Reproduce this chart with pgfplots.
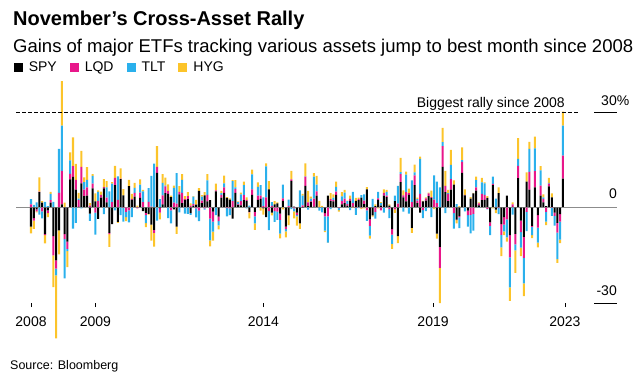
\documentclass[border=0pt]{standalone}
\usepackage{pgfplots}
\pgfplotsset{compat=1.18}
\usepackage{pgfplotstable}
\usepackage{fontspec}
\setmainfont{Liberation Sans}
\definecolor{cSPY}{HTML}{000000}
\definecolor{cLQD}{HTML}{E8178A}
\definecolor{cTLT}{HTML}{2AB0EC}
\definecolor{cHYG}{HTML}{FCC42A}
\definecolor{zline}{HTML}{8C8C8C}

\pgfplotstableread{
i spy lqd tlt hyg
0 -6.0 1.0 1.6 -2.1
1 -3.3 -0.8 0.8 -2.6
2 -0.6 -0.6 1.6 -0.3
3 4.8 0.2 -2.2 4.5
4 1.5 -1.2 -2.2 0.5
5 -8.4 -0.3 1.8 -2.6
6 -0.9 -0.9 0.4 -1.2
7 1.5 0.8 2.0 0.6
8 -9.0 -6.0 1.8 -10.0
9 -16.6 -2.6 -2.1 -19.8
10 -7.2 4.6 13.8 -7.5
11 1.0 10.5 14.2 14.0
12 -8.4 -1.5 -12.4 1.5
13 -10.7 -2.3 -0.7 -5.0
14 8.8 1.8 4.2 2.5
15 9.6 3.4 -6.6 9.0
16 5.6 3.1 -4.8 5.0
17 0.2 2.1 0.5 1.8
18 7.6 5.2 -0.3 5.0
19 3.6 2.0 2.4 1.5
20 3.7 2.6 2.4 4.0
21 -1.9 0.6 -2.3 0.8
22 6.0 1.5 2.4 0.6
23 1.9 -1.6 -6.9 2.5
24 -3.6 2.1 2.8 0.5
25 3.1 0.8 0.1 1.0
26 6.0 0.4 -2.1 2.5
27 1.6 1.5 3.2 2.0
28 -8.0 -0.4 5.1 -4.0
29 -5.2 1.7 5.8 0.5
30 7.0 2.3 -0.9 3.8
31 -4.5 2.4 7.4 -0.3
32 8.9 0.2 -2.4 3.2
33 3.8 -0.1 -4.3 2.0
34 0.0 -1.4 -1.6 -1.3
35 6.7 -0.9 -3.8 2.0
36 2.4 0.3 -3.0 1.6
37 3.4 1.2 1.6 1.5
38 0.0 -0.3 0.1 0.5
39 3.0 1.7 2.5 1.6
40 -1.1 1.7 3.4 0.4
41 -1.7 -0.7 -2.5 -1.3
42 -2.0 1.8 4.3 -0.2
43 -5.4 0.3 9.6 -5.0
44 -7.0 -1.0 13.8 -4.3
45 10.9 1.9 -4.1 6.5
46 -0.2 -1.4 2.6 -2.1
47 1.0 2.8 3.9 2.8
48 4.5 2.1 0.3 2.5
49 4.3 0.9 -3.3 2.1
50 3.3 -0.9 -4.1 0.4
51 -0.6 1.5 4.7 0.7
52 -6.0 1.2 9.6 -2.3
53 4.1 0.8 -1.5 1.8
54 1.4 3.2 4.1 1.8
55 2.3 0.3 -1.9 1.0
56 2.6 1.0 -2.0 1.2
57 -1.8 0.6 -0.5 0.7
58 0.6 0.5 2.3 0.2
59 0.9 -0.3 -2.8 1.5
60 5.2 -1.0 -3.3 0.9
61 1.4 0.8 1.2 0.5
62 3.8 -0.3 -0.4 1.0
63 1.9 2.1 4.5 2.0
64 2.3 -3.5 -6.8 -1.9
65 -1.3 -3.1 -3.2 -2.8
66 5.1 0.3 -2.4 2.1
67 -2.9 -1.4 -1.3 -1.3
68 3.1 0.9 0.5 0.7
69 4.6 1.7 1.3 2.4
70 3.0 -0.2 -2.6 0.3
71 2.5 -0.3 -2.1 0.4
72 -3.5 2.0 6.3 0.3
73 4.6 1.2 0.5 2.3
74 0.8 0.2 0.7 0.2
75 0.7 1.3 2.1 0.6
76 2.3 1.6 3.1 1.1
77 2.1 0.3 -0.3 0.8
78 -1.4 -0.1 0.6 -1.9
79 4.0 1.7 4.7 1.5
80 -1.4 -1.4 -2.2 -2.0
81 2.4 1.3 2.8 1.4
82 2.7 1.0 3.3 -1.0
83 -0.3 0.4 2.8 -1.9
84 -3.0 3.2 9.7 1.0
85 5.7 -1.1 -6.0 2.6
86 -1.6 0.5 1.2 -0.9
87 1.0 -1.1 -3.4 1.0
88 1.3 -1.3 -2.6 0.3
89 -1.9 -2.0 -4.3 -1.5
90 2.1 0.8 4.3 -0.6
91 -6.0 -0.8 -0.7 -1.9
92 -2.5 0.5 2.0 -3.0
93 8.4 0.4 -0.5 2.7
94 0.3 -0.3 -0.9 -2.2
95 -1.6 -0.8 -0.4 -2.9
96 -5.0 0.0 5.4 -1.7
97 -0.1 0.7 3.0 0.6
98 6.8 2.9 0.1 4.1
99 0.4 1.2 -0.7 3.6
100 1.8 0.1 0.9 0.6
101 0.3 2.5 6.9 1.1
102 3.7 1.4 2.1 2.7
103 0.1 0.1 -1.0 1.9
104 0.0 0.1 -1.5 0.4
105 -1.8 -1.0 -4.5 -0.4
106 3.7 -2.8 -8.2 -0.1
107 2.0 0.6 -0.5 1.9
108 1.9 0.4 0.8 1.0
109 4.0 1.0 1.5 1.6
110 0.1 -0.2 -0.6 -0.5
111 1.0 1.1 1.4 1.3
112 1.4 1.4 1.9 0.8
113 0.6 0.5 0.9 0.2
114 2.1 0.6 -0.8 1.0
115 0.3 1.1 3.5 -0.1
116 2.1 -0.1 -2.2 0.9
117 2.3 0.4 -0.2 0.4
118 3.1 -0.2 0.8 -0.3
119 1.1 1.1 1.9 -0.3
120 5.7 -0.9 -3.3 0.7
121 -3.7 -2.1 -3.0 -1.0
122 -2.5 0.1 2.6 -0.4
123 0.4 -1.4 -2.1 0.6
124 2.4 0.5 2.0 -0.3
125 0.6 -0.9 0.8 0.3
126 3.7 0.9 -1.6 1.1
127 3.3 0.4 1.2 0.6
128 0.6 -0.5 -2.8 0.4
129 -6.8 -1.7 -2.9 -1.6
130 2.0 -0.6 1.7 -1.1
131 -9.0 1.2 5.6 -2.2
132 8.0 2.5 0.6 4.5
133 3.2 0.6 -1.3 1.6
134 1.9 2.9 5.5 1.0
135 4.0 0.5 -1.9 1.4
136 -6.4 1.7 6.8 -1.6
137 7.0 3.1 0.9 2.5
138 1.4 0.8 0.4 0.5
139 -1.6 4.3 11.0 0.7
140 1.9 -0.8 -2.5 0.2
141 2.2 0.7 -1.1 0.3
142 3.6 0.8 -0.1 0.3
143 3.0 0.3 -3.0 2.0
144 0.0 2.5 7.6 -0.5
145 -8.2 1.4 6.7 -1.6
146 -12.4 -6.6 6.3 -11.0
147 12.8 6.5 1.2 4.5
148 4.8 2.0 -1.8 4.7
149 2.0 2.3 0.2 1.0
150 5.6 3.3 4.5 4.7
151 7.2 -1.8 -4.8 1.3
152 -3.8 -0.2 1.1 -1.0
153 -2.7 -0.4 -3.4 0.4
154 10.9 3.4 0.6 4.0
155 3.8 0.2 -1.2 1.7
156 -1.0 -1.4 -3.6 0.1
157 2.8 -2.3 -5.8 0.5
158 4.4 -2.0 -5.3 0.2
159 5.3 1.0 2.3 1.1
160 0.7 0.6 -0.1 0.3
161 2.3 2.0 3.6 1.4
162 2.4 1.6 3.6 0.3
163 3.0 -0.4 -0.2 0.6
164 -4.7 -1.1 -2.9 0.0
165 7.0 0.4 2.3 -0.3
166 -0.7 0.2 2.6 -1.1
167 4.5 -0.2 -1.9 1.8
168 -5.2 -3.4 -3.9 -2.8
169 -3.0 -2.4 -2.1 -1.2
170 3.7 -3.7 -5.7 -1.3
171 -8.7 -7.0 -9.4 -4.2
172 0.2 0.8 -2.2 0.6
173 -8.3 -3.3 -1.9 -7.0
174 9.2 3.9 2.2 6.5
175 -4.1 -3.6 -4.9 -2.7
176 -9.2 -6.6 -8.0 -4.0
177 8.1 -1.4 -6.0 2.9
178 5.6 5.6 7.2 2.2
179 -5.8 -0.3 -2.6 -0.9
180 6.3 5.1 7.2 3.7
181 -2.4 -3.9 -4.7 -1.5
182 3.7 3.2 4.8 1.3
183 1.6 1.1 0.5 0.9
184 0.4 -1.4 -3.0 -1.1
185 6.6 0.9 0.2 1.6
186 3.2 -0.1 -2.5 1.2
187 -1.6 -1.0 -3.1 0.1
188 -4.8 -3.1 -8.3 -1.2
189 -2.1 -2.3 -5.7 -1.1
190 9.1 7.2 9.4 4.4
}\data

\pgfplotsset{
  base/.style={
    scale only axis, width=601pt, height=191pt,
    xmin=-5.36, xmax=209.3, ymin=-30, ymax=30,
    at={(16pt,-303pt)}, anchor=south west,
    clip=false,
    ybar stacked, bar width=0.72,
    axis x line*=bottom, axis y line=none,
    axis line style={draw=none},
    ytick=\empty,
    tick align=outside,
    major tick length=4pt,
    every tick/.style={black, line width=0.6pt},
    /pgf/number format/assume math mode=true,
  },
}

\begin{document}
\begin{tikzpicture}
\path[use as bounding box] (0pt,0pt) rectangle (643pt,-386pt);

% positive parts
\begin{axis}[base,
  xtick={0,23,83,143.6,190.7},
  xticklabels={2008,2009,2014,2019,2023},
  xticklabel style={anchor=base, font=\fontsize{14}{14}\selectfont, yshift=-19pt},
  legend columns=4,
  legend style={at={(-0.004,1.232)}, anchor=west, draw=none, fill=none,
    inner sep=0pt, font=\fontsize{14}{14}\selectfont,
    /tikz/every even column/.append style={column sep=11pt}},
  legend image code/.code={\fill[#1] (0pt,-4.5pt) rectangle (9pt,4.5pt); \path (13pt,0pt);},
  ]
\addplot[fill=cSPY, draw=none] table[x=i, y expr={max(\thisrow{spy},0)}] {\data};
\addplot[fill=cLQD, draw=none] table[x=i, y expr={max(\thisrow{lqd},0)}] {\data};
\addplot[fill=cTLT, draw=none] table[x=i, y expr={max(\thisrow{tlt},0)}] {\data};
\addplot[fill=cHYG, draw=none] table[x=i, y expr={max(\thisrow{hyg},0)}] {\data};
\legend{SPY,LQD,TLT,HYG}
\end{axis}

% negative parts
\begin{axis}[base, xtick=\empty]
\addplot[fill=cSPY, draw=none] table[x=i, y expr={min(\thisrow{spy},0)}] {\data};
\addplot[fill=cLQD, draw=none] table[x=i, y expr={min(\thisrow{lqd},0)}] {\data};
\addplot[fill=cTLT, draw=none] table[x=i, y expr={min(\thisrow{tlt},0)}] {\data};
\addplot[fill=cHYG, draw=none] table[x=i, y expr={min(\thisrow{hyg},0)}] {\data};
\draw[zline, line width=1.2pt] (axis cs:-5.36,0) -- (axis cs:209.3,0);
\draw[black, line width=1pt, dash pattern=on 3.5pt off 2.5pt] (axis cs:-5.36,30) -- (axis cs:195.4,30);
\draw[black, line width=0.8pt] (axis cs:201.1,30) -- (axis cs:209.3,30);
\draw[black, line width=0.8pt] (axis cs:201.1,-30) -- (axis cs:209.3,-30);
\node[anchor=base east, inner sep=0pt, font=\fontsize{14}{14}\selectfont, yshift=7pt] at (axis cs:209.3,30) {30\rlap{\%}};
\node[anchor=base east, inner sep=0pt, font=\fontsize{14}{14}\selectfont, yshift=9pt] at (axis cs:209.3,0) {0};
\node[anchor=base east, inner sep=0pt, font=\fontsize{14}{14}\selectfont, yshift=8pt] at (axis cs:209.3,-30) {-30};
\node[anchor=base east, inner sep=0pt, font=\fontsize{14}{14}\selectfont, yshift=5pt] at (axis cs:190.7,30) {Biggest rally since 2008};
\end{axis}

\node[anchor=base west, inner sep=0pt, font=\fontsize{20}{20}\selectfont\bfseries] at (13pt,-25pt) {November's Cross-Asset Rally};
\node[anchor=base west, inner sep=0pt, font=\fontsize{18.5}{18.5}\selectfont] at (13pt,-52pt) {Gains of major ETFs tracking various assets jump to best month since 2008};
\node[anchor=base west, inner sep=0pt, font=\fontsize{12.5}{12.5}\selectfont] at (10pt,-369pt) {Source: Bloomberg};
\end{tikzpicture}
\end{document}
